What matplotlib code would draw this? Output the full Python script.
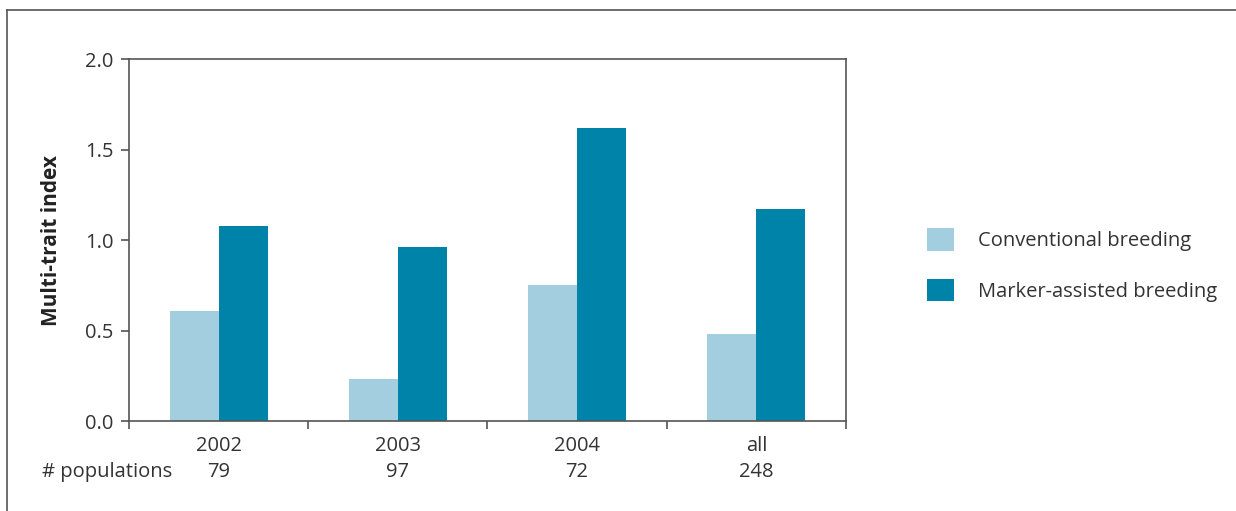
import matplotlib
matplotlib.use("Agg")
import matplotlib.pyplot as plt
from matplotlib.lines import Line2D
from matplotlib.patches import Patch
import numpy as np

# Data
groups = ["2002", "2003", "2004", "all"]
populations = ["79", "97", "72", "248"]
conventional = [0.61, 0.23, 0.75, 0.48]
marker_assisted = [1.08, 0.96, 1.62, 1.17]
series_names = ["Conventional breeding", "Marker-assisted breeding"]

LIGHT = "#a2cee0"
DARK = "#0083a9"
GREY = "#555555"
TEXT = "#333333"
FS = 14.5

plt.rcParams["font.family"] = ["Open Sans", "DejaVu Sans"]

W, H = 1236, 511
fig = plt.figure(figsize=(W / 100, H / 100), dpi=100)

# open frame round the figure (top and left only)
fig.add_artist(Line2D([7 / W, 7 / W], [0, 1 - 10 / H], color=GREY, lw=1.2,
                      transform=fig.transFigure))
fig.add_artist(Line2D([7 / W, 1], [1 - 10 / H, 1 - 10 / H], color=GREY, lw=1.2,
                      transform=fig.transFigure))

# axes box: x 129..846, y 59..421 in pixels
ax = fig.add_axes([129 / W, 1 - 421 / H, (846 - 129) / W, (421 - 59) / H])

x = np.arange(len(groups))
bw = 0.273
ax.bar(x - bw / 2, conventional, bw, color=LIGHT, linewidth=0)
ax.bar(x + bw / 2, marker_assisted, bw, color=DARK, linewidth=0)

ax.set_xlim(-0.5, len(groups) - 0.5)
ax.set_ylim(0, 2.0)
ax.set_yticks([0.0, 0.5, 1.0, 1.5, 2.0])
ax.set_yticklabels(["0.0", "0.5", "1.0", "1.5", "2.0"])

# ticks sit on group boundaries, labels go under group centres
ax.set_xticks(np.arange(len(groups) + 1) - 0.5)
ax.set_xticklabels([])
ax.tick_params(axis="x", direction="out", length=6, width=1.2, color=GREY)
ax.tick_params(axis="y", direction="out", length=6, width=1.2, color=GREY,
               labelsize=FS, labelcolor=TEXT, pad=5)
for s in ax.spines.values():
    s.set_color(GREY)
    s.set_linewidth(1.2)

for xi, g, n in zip(x, groups, populations):
    ax.text(xi, -0.068, g, transform=ax.get_xaxis_transform(), ha="center",
            va="center", fontsize=FS, color=TEXT)
    ax.text(xi, -0.142, n, transform=ax.get_xaxis_transform(), ha="center",
            va="center", fontsize=FS, color=TEXT)
fig.text(42 / W, 1 - 472 / H, "# populations", ha="left", va="center",
         fontsize=FS, color=TEXT)

fig.text(52 / W, 1 - 240 / H, "Multi-trait index", rotation=90, ha="center",
         va="center", fontsize=15, fontweight="bold", color="#222222")

# legend as patches + text
handles = [Patch(facecolor=LIGHT, edgecolor="none"),
           Patch(facecolor=DARK, edgecolor="none")]
fig.legend(handles, series_names, loc="center left",
           bbox_to_anchor=(909 / W, 1 - 265 / H), frameon=False, fontsize=FS,
           handlelength=1.35, handleheight=1.35, handletextpad=1.2,
           labelspacing=1.35, labelcolor=TEXT)

fig.savefig("out.png", dpi=100)
